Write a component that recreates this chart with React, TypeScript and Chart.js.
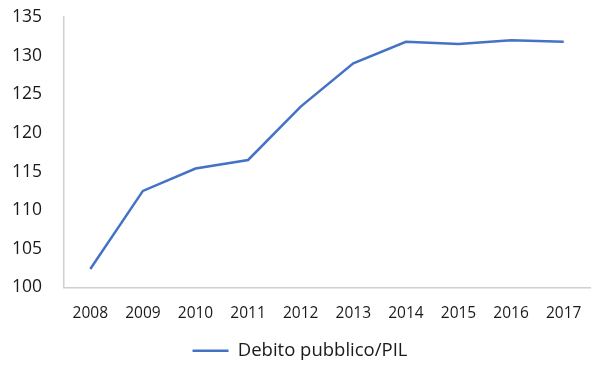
import React, { useEffect, useRef } from "react";
import { Chart, registerables } from "chart.js";

Chart.register(...registerables);

const years = ["2008", "2009", "2010", "2011", "2012", "2013", "2014", "2015", "2016", "2017"];
const debtRatio = [102.4, 112.5, 115.4, 116.5, 123.4, 129.0, 131.8, 131.5, 132.0, 131.8];
const seriesLabel = "Debito pubblico/PIL";

const FONT = "'Open Sans', sans-serif";

export default function App() {
  const ref = useRef<HTMLCanvasElement | null>(null);
  useEffect(() => {
    document.body.style.margin = "0";
    const ctx = ref.current!;
    const chart = new Chart(ctx, {
      type: "line",
      data: {
        labels: years,
        datasets: [
          {
            label: seriesLabel,
            data: debtRatio,
            borderColor: "#4472C4",
            backgroundColor: "#4472C4",
            borderWidth: 2.5,
            pointRadius: 0,
            tension: 0,
          },
        ],
      },
      options: {
        animation: false,
        responsive: false,
        layout: { padding: { top: 17, right: 10, left: 10, bottom: 6 } },
        plugins: {
          tooltip: { enabled: false },
          legend: {
            position: "bottom",
            labels: {
              usePointStyle: true,
              pointStyle: "line",
              pointStyleWidth: 36,
              color: "#1a1a1a",
              font: { family: FONT, size: 18.5 },
              padding: 10,
            },
          },
        },
        scales: {
          x: {
            offset: true,
            grid: { display: false },
            border: { display: true, color: "#d0d0d0", width: 1.5 },
            ticks: { color: "#1a1a1a", font: { family: FONT, size: 15.5 }, padding: 9, maxRotation: 0 },
            afterFit: (s: any) => { s.height = 44; },
          },
          y: {
            min: 100,
            max: 135,
            grid: { display: false },
            border: { display: true, color: "#d0d0d0", width: 1.5 },
            ticks: { stepSize: 5, color: "#1a1a1a", font: { family: FONT, size: 17.5 }, padding: 14 },
            afterFit: (s: any) => { s.width = 54; s.paddingTop = 0; },
          },
        },
      },
    });
    return () => chart.destroy();
  }, []);
  return (
    <div style={{ position: "absolute", left: 0, top: 0, width: 600, height: 376 }}>
      <canvas ref={ref} width={600} height={376} />
    </div>
  );
}
